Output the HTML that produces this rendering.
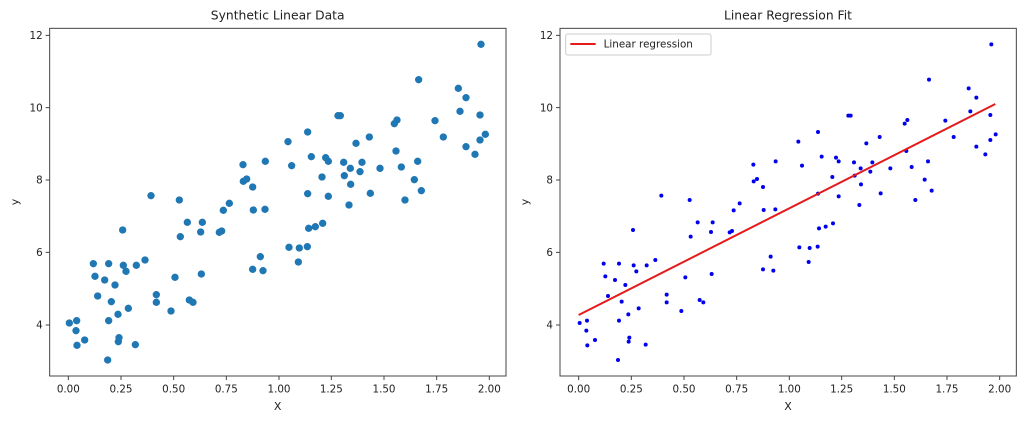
<!DOCTYPE html>
<html><head><meta charset="utf-8"><style>
html,body{margin:0;padding:0;background:#fff;}
svg{display:block;}
text{font-family:"DejaVu Sans","Liberation Sans",sans-serif;fill:#222;}
</style></head><body>
<svg width="1024" height="422" viewBox="0 0 3072 1266" xmlns="http://www.w3.org/2000/svg">
<defs>
<g id="pts">
<path d="M208,969h0M230,962h0M228,992h0M231,1036h0M254,1020h0M280,791h0M285,829h0M293,888h0M314,840h0M326,791h0M334,905h0M326,962h0M345,855h0M354,943h0M355,1025h0M357,1013h0M323,1080h0M368,690h0M370,796h0M378,814h0M385,925h0M406,1034h0M409,796h0M435,780h0M453,587h0M469,884h0M469,907h0M513,933h0M525,832h0M538,600h0M541,710h0M562,667h0M568,900h0M579,907h0M604,822h0M602,696h0M607,667h0M658,697h0M665,693h0M670,631h0M688,610h0M729,494h0M730,544h0M740,537h0M758,561h0M760,630h0M758,808h0M781,770h0M789,812h0M795,628h0M796,484h0M864,425h0M867,742h0M875,497h0M895,786h0M898,744h0M922,740h0M923,396h0M923,581h0M926,685h0M934,470h0M946,680h0M968,670h0M966,531h0M977,473h0M985,484h0M985,589h0M1014,347h0M1021,347h0M1031,487h0M1033,527h0M1047,615h0M1051,505h0M1052,553h0M1068,430h0M1080,515h0M1086,487h0M1108,411h0M1111,580h0M1140,505h0M1183,371h0M1191,360h0M1188,453h0M1204,501h0M1215,600h0M1243,539h0M1253,484h0M1256,239h0M1264,572h0M1305,362h0M1330,411h0M1375,265h0M1380,334h0M1398,293h0M1398,440h0M1425,463h0M1440,345h0M1440,420h0M1443,133h0M1456,403h0"/>
</g>
<g id="axes">
<rect x="149" y="85" width="1369" height="1043" fill="none" stroke="#444" stroke-width="3"/>
<g stroke="#444" stroke-width="3">
<path d="M205,1128v12M363,1128v12M521,1128v12M679,1128v12M837,1128v12M994,1128v12M1152,1128v12M1310,1128v12M1468,1128v12"/>
<path d="M149,106h-12M149,323h-12M149,540h-12M149,757h-12M149,975h-12"/>
</g>
<g font-size="31" text-anchor="middle">
<text x="205" y="1178">0.00</text><text x="363" y="1178">0.25</text><text x="521" y="1178">0.50</text><text x="679" y="1178">0.75</text><text x="837" y="1178">1.00</text><text x="994" y="1178">1.25</text><text x="1152" y="1178">1.50</text><text x="1310" y="1178">1.75</text><text x="1468" y="1178">2.00</text>
</g>
<g font-size="31" text-anchor="end">
<text x="128" y="117">12</text><text x="128" y="334">10</text><text x="128" y="551">8</text><text x="128" y="768">6</text><text x="128" y="986">4</text>
</g>
<text x="833" y="1230" font-size="33" text-anchor="middle">X</text>
<text transform="translate(55,606) rotate(-90)" font-size="33" text-anchor="middle">y</text>
</g>
</defs>
<use href="#axes"/>
<text x="833" y="58" font-size="37" text-anchor="middle">Synthetic Linear Data</text>
<g stroke="#1f77b4" stroke-width="22" stroke-linecap="round" fill="none"><use href="#pts"/></g>

<g transform="translate(1531,0)">
<use href="#axes"/>
<text x="833" y="58" font-size="37" text-anchor="middle">Linear Regression Fit</text>
<g stroke="#0000ee" stroke-width="12" stroke-linecap="round" fill="none"><use href="#pts"/></g>
<line x1="205" y1="945" x2="1455" y2="312" stroke="#e41a1c" stroke-width="6"/>
<rect x="166" y="102" width="436" height="63" rx="6" fill="#fff" fill-opacity="0.85" stroke="#ccc" stroke-width="3"/>
<line x1="180" y1="132" x2="256" y2="132" stroke="#e41a1c" stroke-width="6"/>
<text x="280" y="143" font-size="31">Linear regression</text>
</g>
</svg>
</body></html>
